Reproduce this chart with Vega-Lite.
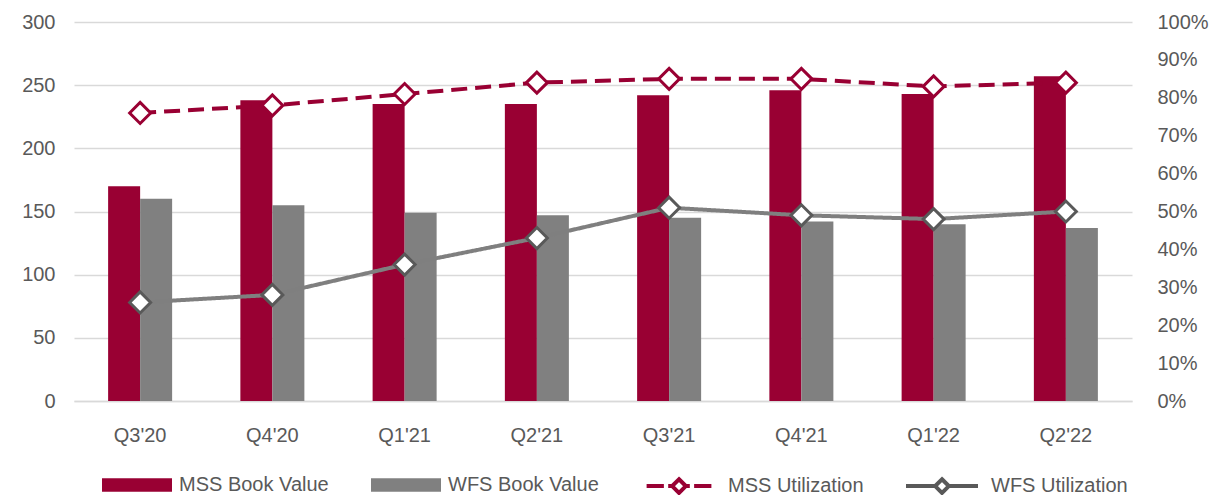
{
  "$schema": "https://vega.github.io/schema/vega-lite/v6.json",
  "autosize": {"type": "none"},
  "padding": {"left": 74, "top": 22, "right": 78, "bottom": 94},
  "width": 1058,
  "height": 379,
  "background": "white",
  "config": {
    "view": {"stroke": null},
    "font": "Liberation Sans",
    "axis": {"labelFont": "Liberation Sans", "labelFontSize": 20, "labelColor": "#595959", "domain": false, "ticks": false, "title": null},
    "legend": {"labelFont": "Liberation Sans", "labelFontSize": 20, "labelColor": "#595959"}
  },
  "datasets": {
    "bars": [
      {"q": "Q3'20", "series": "MSS Book Value", "value": 170},
      {"q": "Q3'20", "series": "WFS Book Value", "value": 160},
      {"q": "Q4'20", "series": "MSS Book Value", "value": 238},
      {"q": "Q4'20", "series": "WFS Book Value", "value": 155},
      {"q": "Q1'21", "series": "MSS Book Value", "value": 235},
      {"q": "Q1'21", "series": "WFS Book Value", "value": 149},
      {"q": "Q2'21", "series": "MSS Book Value", "value": 235},
      {"q": "Q2'21", "series": "WFS Book Value", "value": 147},
      {"q": "Q3'21", "series": "MSS Book Value", "value": 242},
      {"q": "Q3'21", "series": "WFS Book Value", "value": 145},
      {"q": "Q4'21", "series": "MSS Book Value", "value": 246},
      {"q": "Q4'21", "series": "WFS Book Value", "value": 142},
      {"q": "Q1'22", "series": "MSS Book Value", "value": 243},
      {"q": "Q1'22", "series": "WFS Book Value", "value": 140},
      {"q": "Q2'22", "series": "MSS Book Value", "value": 257},
      {"q": "Q2'22", "series": "WFS Book Value", "value": 137}
    ],
    "util": [
      {"q": "Q3'20", "series": "MSS Utilization", "value": 0.76},
      {"q": "Q4'20", "series": "MSS Utilization", "value": 0.78},
      {"q": "Q1'21", "series": "MSS Utilization", "value": 0.81},
      {"q": "Q2'21", "series": "MSS Utilization", "value": 0.84},
      {"q": "Q3'21", "series": "MSS Utilization", "value": 0.85},
      {"q": "Q4'21", "series": "MSS Utilization", "value": 0.85},
      {"q": "Q1'22", "series": "MSS Utilization", "value": 0.83},
      {"q": "Q2'22", "series": "MSS Utilization", "value": 0.84},
      {"q": "Q3'20", "series": "WFS Utilization", "value": 0.26},
      {"q": "Q4'20", "series": "WFS Utilization", "value": 0.28},
      {"q": "Q1'21", "series": "WFS Utilization", "value": 0.36},
      {"q": "Q2'21", "series": "WFS Utilization", "value": 0.43},
      {"q": "Q3'21", "series": "WFS Utilization", "value": 0.51},
      {"q": "Q4'21", "series": "WFS Utilization", "value": 0.49},
      {"q": "Q1'22", "series": "WFS Utilization", "value": 0.48},
      {"q": "Q2'22", "series": "WFS Utilization", "value": 0.50}
    ]
  },
  "encoding": {
    "x": {
      "field": "q", "type": "nominal", "sort": null,
      "scale": {"domain": ["Q3'20","Q4'20","Q1'21","Q2'21","Q3'21","Q4'21","Q1'22","Q2'22"], "paddingInner": 0.516, "paddingOuter": 0.258},
      "axis": {"labelAngle": 0, "labelPadding": 24, "domain": true, "domainColor": "#d9d9d9", "domainWidth": 1.5}
    }
  },
  "layer": [
    {
      "data": {"name": "bars"},
      "mark": {"type": "bar"},
      "encoding": {
        "xOffset": {"field": "series", "type": "nominal", "scale": {"domain": ["MSS Book Value", "WFS Book Value"], "paddingInner": 0, "paddingOuter": 0}},
        "y": {
          "field": "value", "type": "quantitative",
          "scale": {"domain": [0, 300]},
          "axis": {"values": [0, 50, 100, 150, 200, 250, 300], "grid": true, "gridColor": "#d9d9d9", "gridWidth": 1.5, "labelPadding": 19, "orient": "left"}
        },
        "fill": {
          "field": "series", "type": "nominal",
          "scale": {"domain": ["MSS Book Value", "WFS Book Value"], "range": ["#990033", "#808080"]},
          "legend": {
            "title": null, "orient": "none", "legendX": 28, "legendY": 428, "direction": "horizontal", "columns": 2,
            "columnPadding": 42, "labelOffset": 7, "symbolSize": 4900, "symbolStrokeWidth": 0, "symbolOpacity": 1,
            "symbolType": "M-1,-0.19L1,-0.19L1,0.19L-1,0.19Z"
          }
        }
      }
    },
    {
      "data": {"name": "util"},
      "encoding": {
        "y": {
          "field": "value", "type": "quantitative",
          "scale": {"domain": [0, 1]},
          "axis": {"orient": "right", "values": [0, 0.1, 0.2, 0.3, 0.4, 0.5, 0.6, 0.7, 0.8, 0.9, 1], "format": ".0%", "grid": false, "labelPadding": 25}
        }
      },
      "layer": [
        {
          "mark": {"type": "line", "strokeWidth": 4},
          "encoding": {
            "color": {"field": "series", "type": "nominal", "scale": {"domain": ["WFS Utilization", "MSS Utilization"], "range": ["#7f7f7f", "#990033"]}, "legend": null},
            "strokeDash": {"field": "series", "type": "nominal", "scale": {"domain": ["WFS Utilization", "MSS Utilization"], "range": [[1, 0], [16, 8]]}, "legend": null}
          }
        },
        {
          "mark": {"type": "point", "shape": "diamond", "filled": true, "fill": "white", "size": 440, "strokeWidth": 3, "opacity": 1},
          "encoding": {
            "stroke": {
              "field": "series", "type": "nominal",
              "scale": {"domain": ["MSS Utilization", "WFS Utilization"], "range": ["#990033", "#595959"]},
              "legend": {
                "title": null, "orient": "none", "legendX": 567, "legendY": 426, "direction": "horizontal", "columns": 2,
                "columnPadding": 34, "labelOffset": 11, "symbolSize": 5184, "symbolStrokeWidth": 4, "symbolOpacity": 1,
                "symbolFillColor": "white"
              }
            }
          }
        },
        {
          "mark": {"type": "point", "filled": true, "fill": "white", "opacity": 0, "strokeWidth": 4},
          "encoding": {
            "stroke": {
              "field": "series", "type": "nominal",
              "scale": {"domain": ["MSS Utilization", "WFS Utilization"], "range": ["#990033", "#595959"]},
              "legend": {
                "title": null, "orient": "none", "legendX": 567, "legendY": 426, "direction": "horizontal", "columns": 2,
                "columnPadding": 34, "labelOffset": 11, "symbolSize": 5184, "symbolStrokeWidth": 4, "symbolOpacity": 1,
                "symbolFillColor": "white"
              }
            },
            "shape": {
              "field": "series", "type": "nominal",
              "scale": {
                "domain": ["MSS Utilization", "WFS Utilization"],
                "range": ["M-0.9,0L-0.42,0M-0.3,0L-0.2,0M0.2,0L0.3,0M0.42,0L0.9,0M0,-0.19L0.19,0L0,0.19L-0.19,0Z", "M-1,0L-0.19,0M0.19,0L1,0M0,-0.19L0.19,0L0,0.19L-0.19,0Z"]
              },
              "legend": {
                "title": null, "orient": "none", "legendX": 567, "legendY": 426, "direction": "horizontal", "columns": 2,
                "columnPadding": 34, "labelOffset": 11, "symbolSize": 5184, "symbolStrokeWidth": 4, "symbolOpacity": 1,
                "symbolFillColor": "white"
              }
            }
          }
        }
      ]
    }
  ],
  "resolve": {"scale": {"y": "independent"}, "axis": {"y": "independent"}}
}
